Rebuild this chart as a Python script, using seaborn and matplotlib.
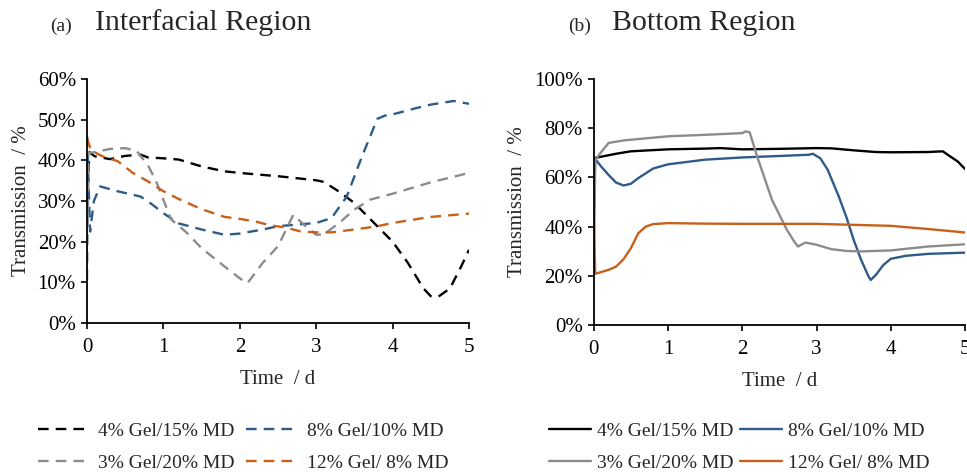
import matplotlib
matplotlib.use("Agg")
import matplotlib.pyplot as plt
import seaborn as sns
import numpy as np
from matplotlib.ticker import PercentFormatter, MultipleLocator
from matplotlib.lines import Line2D

sns.set_theme(style="ticks")
plt.rcParams['font.family'] = ['Liberation Serif', 'DejaVu Serif']

# ---------------- data ----------------
labels = ["4% Gel/15% MD", "8% Gel/10% MD", "3% Gel/20% MD", "12% Gel/ 8% MD"]
colors = ["#000000", "#2E5B88", "#8C8C8C", "#C8601C"]

# (a) Interfacial region
a_t_black = [0, 0.03, 0.1, 0.3, 0.5, 0.7, 0.8, 1.0, 1.2, 1.5, 1.8, 2.0, 2.5, 3.0, 3.1, 3.3, 3.5,
             3.8, 4.0, 4.2, 4.4, 4.5, 4.6, 4.75, 4.9, 5.0]
a_v_black = [28.5, 42, 41, 40.3, 41.1, 41.4, 40.7, 40.5, 40.2, 38.5, 37.3, 36.9, 36.1, 35.1, 34.7, 32.3, 29.5,
             23.8, 20, 14.8, 8.6, 6.6, 6.5, 8.5, 14, 18]

a_t_blue = [0, 0.04, 0.09, 0.17, 0.4, 0.7, 0.85, 1.0, 1.2, 1.5, 1.8, 2.0, 2.3, 2.5, 2.8, 3.0, 3.2,
            3.4, 3.6, 3.8, 3.9, 4.0, 4.3, 4.5, 4.8, 5.0]
a_v_blue = [46, 22.5, 30, 33.6, 32.4, 31.1, 29.2, 27.0, 24.5, 23.0, 21.7, 22.0, 23.0, 23.8, 24.3, 24.6, 25.8,
            31.1, 41, 50.2, 51, 51.3, 52.8, 53.7, 54.6, 53.9]

a_t_gray = [0, 0.02, 0.1, 0.3, 0.5, 0.65, 0.8, 0.9, 1.0, 1.1, 1.3, 1.5, 1.8, 2.0, 2.1, 2.3, 2.5,
            2.7, 2.85, 3.0, 3.1, 3.3, 3.5, 3.7, 4.0, 4.5, 5.0]
a_v_gray = [10.5, 41.8, 42, 42.8, 43, 42.3, 38.7, 35, 30.3, 25.5, 22.3, 18.4, 13.9, 11, 9.8, 14.8, 18.9,
            26.6, 24, 21.7, 21.8, 24.6, 27.9, 30.3, 31.8, 34.6, 36.9]

a_t_orange = [0, 0.05, 0.2, 0.4, 0.6, 0.8, 1.0, 1.2, 1.5, 1.8, 2.0, 2.2, 2.4, 2.6, 2.8, 3.0, 3.2,
              3.5, 3.8, 4.0, 4.5, 5.0]
a_v_orange = [45.5, 42.5, 41, 39.8, 36.9, 34.8, 32.4, 30.5, 28, 26.1, 25.6, 25, 24, 23.5, 22.5, 22.3, 22.3,
              23, 23.8, 24.6, 26.1, 26.9]

# (b) Bottom region
b_t_black = [0, 0.3, 0.5, 1.0, 1.5, 1.7, 2.0, 2.5, 3.0, 3.2, 3.5, 3.8, 4.0, 4.5, 4.7, 4.8, 4.9, 5.0]
b_v_black = [67.8, 69.6, 70.6, 71.4, 71.7, 71.9, 71.4, 71.6, 71.9, 71.8, 71.0, 70.3, 70.2, 70.3, 70.6, 68.5, 66.5, 63.4]

b_t_blue = [0, 0.02, 0.1, 0.2, 0.3, 0.4, 0.5, 0.6, 0.8, 1.0, 1.5, 2.0, 2.5, 2.9, 2.95, 3.05, 3.15,
            3.3, 3.4, 3.5, 3.6, 3.7, 3.73, 3.8, 3.9, 4.0, 4.2, 4.5, 5.0]
b_v_blue = [43, 67.5, 64.4, 61, 57.9, 56.7, 57.4, 59.7, 63.6, 65.3, 67.2, 68.1, 68.7, 69.2, 69.6, 67.8, 63.1,
            52.2, 44, 34.6, 26.5, 19.7, 18.3, 20.4, 24.4, 26.9, 28.1, 28.9, 29.4]

b_t_gray = [0, 0.02, 0.08, 0.2, 0.4, 0.5, 1.0, 1.5, 2.0, 2.05, 2.1, 2.2, 2.4, 2.6, 2.7, 2.75, 2.85,
            3.0, 3.2, 3.4, 3.6, 4.0, 4.5, 5.0]
b_v_gray = [19.5, 67, 69.5, 74, 75, 75.3, 76.7, 77.3, 78, 78.7, 78.3, 68.5, 50.9, 38.7, 33.9, 31.9, 33.5,
            32.6, 30.8, 30.1, 29.9, 30.3, 31.9, 32.8]

b_t_orange = [0, 0.02, 0.1, 0.2, 0.3, 0.4, 0.5, 0.6, 0.7, 0.8, 1.0, 1.5, 2.0, 3.0, 3.5, 4.0, 4.5, 5.0]
b_v_orange = [44, 20.8, 21.5, 22.4, 23.7, 26.7, 31.2, 37.3, 40, 41, 41.4, 41.2, 41.1, 41.1, 40.7, 40.3, 39, 37.6]

a_series = [(a_t_black, a_v_black), (a_t_blue, a_v_blue), (a_t_gray, a_v_gray), (a_t_orange, a_v_orange)]
b_series = [(b_t_black, b_v_black), (b_t_blue, b_v_blue), (b_t_gray, b_v_gray), (b_t_orange, b_v_orange)]

# ---------------- figure ----------------
fig = plt.figure(figsize=(9.67, 4.73), dpi=100)
axA = fig.add_axes([0.090, 0.317, 0.395, 0.516])
axB = fig.add_axes([0.614, 0.313, 0.384, 0.520])

fs_tick = 15
fs_lab = 15

for ax, series, ls, ymax, ystep in [(axA, a_series, "dashed", 60, 10), (axB, b_series, "solid", 100, 20)]:
    for (t, v), c, lab in zip(series, colors, labels):
        sns.lineplot(x=t, y=v, ax=ax, color=c, estimator=None, sort=False, linewidth=1.7,
                     label=lab, legend=False)
        if ls == "dashed":
            ax.lines[-1].set_dashes((4.5, 3))
    ax.set_xlim(0, 5)
    ax.set_ylim(0, ymax)
    ax.xaxis.set_major_locator(MultipleLocator(1))
    ax.yaxis.set_major_locator(MultipleLocator(ystep))
    ax.yaxis.set_major_formatter(PercentFormatter(xmax=100, decimals=0))
    for s in ["top", "right"]:
        ax.spines[s].set_visible(False)
    for s in ["left", "bottom"]:
        ax.spines[s].set_linewidth(1.3)
        ax.spines[s].set_color("black")
    ax.tick_params(axis="y", direction="out", length=4, width=1.2, labelsize=fs_tick, colors="black", pad=4)
    ax.tick_params(axis="x", direction="out", length=4, width=1.2, labelsize=fs_tick, colors="black", pad=7)
    ax.set_xlabel("Time  / d", fontsize=fs_lab, labelpad=9)
    ax.set_ylabel("Transmission  / %", fontsize=fs_lab, labelpad=5)
    ax.patch.set_alpha(0)

# titles
fig.text(50 / 967, 1 - 26 / 473, "(a)", fontsize=14, va="center", ha="left")
fig.text(95 / 967, 1 - 23 / 473, "Interfacial Region", fontsize=21.5, va="center", ha="left")
fig.text(568 / 967, 1 - 26 / 473, "(b)", fontsize=14, va="center", ha="left")
fig.text(612 / 967, 1 - 23 / 473, "Bottom Region", fontsize=21.5, va="center", ha="left")

# legends (column-major order: black, gray | blue, orange)
order = [0, 2, 1, 3]
hA = [Line2D([], [], color=colors[i], linewidth=1.7, dashes=(4.5, 3)) for i in order]
hB = [Line2D([], [], color=colors[i], linewidth=1.7) for i in order]
labs = [labels[i] for i in order]
fig.legend(hA, labs, loc="upper left", bbox_to_anchor=(38 / 967, 1 - 422 / 473), ncol=2, frameon=False,
           fontsize=14, handlelength=2.7, handletextpad=0.4, columnspacing=0.6, labelspacing=0.75,
           borderpad=0, borderaxespad=0)
fig.legend(hB, labs, loc="upper left", bbox_to_anchor=(549 / 967, 1 - 422 / 473), ncol=2, frameon=False,
           fontsize=14, handlelength=2.15, handletextpad=0.3, columnspacing=0.35, labelspacing=0.75,
           borderpad=0, borderaxespad=0)

fig.savefig("out.png", dpi=100, facecolor="white")
